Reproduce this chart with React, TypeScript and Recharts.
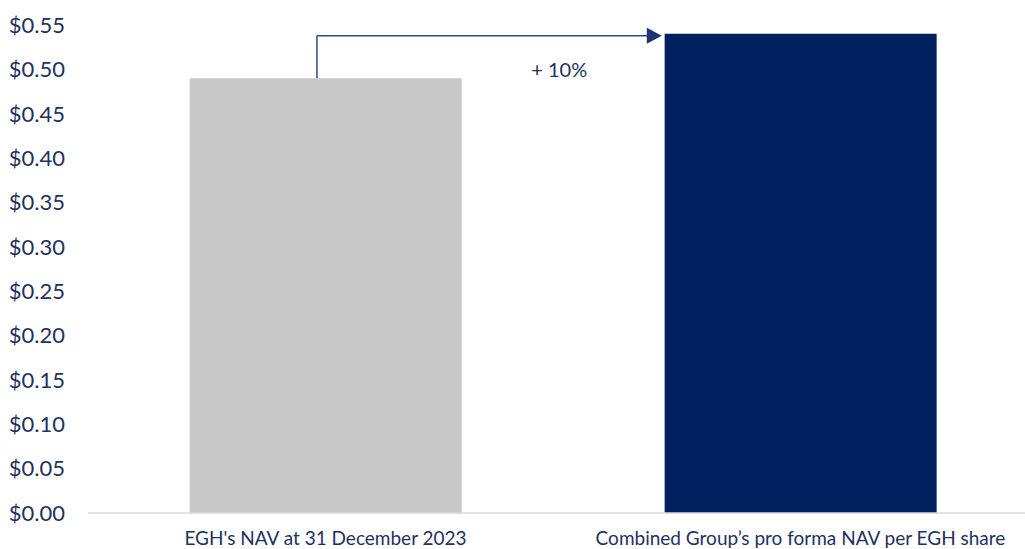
import React from 'react';
import {
  BarChart,
  Bar,
  Cell,
  XAxis,
  YAxis,
  ReferenceLine,
  ReferenceDot,
} from 'recharts';

// categories and values
const categories = ["EGH's NAV at 31 December 2023", 'Combined Group’s pro forma NAV per EGH share'];
const navValues = [0.49, 0.54];
const barColors = ['#c8c8c8', '#002060'];
const yTicks = [0, 0.05, 0.1, 0.15, 0.2, 0.25, 0.3, 0.35, 0.4, 0.45, 0.5, 0.55];

// arrow annotation, as a fraction of the plot width on a hidden numeric axis (0..1)
const arrowStartX = 0.241;
const arrowEndX = 0.604;
const arrowY = 0.538;
const changeLabel = '+ 10%';
const changeLabelPos = { x: 0.496, y: 0.5 };

const data = categories.map((name, i) => ({ name, value: navValues[i] }));

const TEXT = '#1f3160';
const ARROW = '#2f4a80';
const FONT = 'Lato, "Open Sans", sans-serif';

const ArrowHead = (props: any) => {
  const { x1, y1, x2, y2 } = props;
  return (
    <g>
      <line x1={x1} y1={y1} x2={x2 - 12} y2={y2} stroke={ARROW} strokeWidth={1.5} />
      <path d={`M${x2},${y2} L${x2 - 15},${y2 - 8} L${x2 - 15},${y2 + 8} Z`} fill="#1f3470" />
    </g>
  );
};

const LabelText = (props: any) => (
  <text x={props.cx} y={props.cy} textAnchor="middle" dominantBaseline="central" fill={TEXT} fontSize={20} fontFamily={FONT}>
    {changeLabel}
  </text>
);

export default function App() {
  return (
    <div style={{ position: 'absolute', left: 0, top: 0, width: 1025, height: 549, overflow: 'hidden', background: '#fff' }}>
      <BarChart width={1038} height={549} data={data} margin={{ top: 25, right: 0, left: 0, bottom: 0 }} barCategoryGap="21.4%">
        <XAxis
          dataKey="name"
          height={36}
          tickLine={false}
          axisLine={{ stroke: '#d9d9d9', strokeWidth: 1.5 }}
          tickMargin={13}
          tick={{ fill: TEXT, fontSize: 19, fontFamily: FONT }}
          interval={0}
        />
        <XAxis xAxisId="num" type="number" domain={[0, 1]} hide allowDataOverflow />
        <YAxis
          width={88}
          domain={[0, 0.55]}
          ticks={yTicks}
          tickLine={false}
          axisLine={false}
          tickSize={0}
          tickMargin={23}
          interval={0}
          tickFormatter={(v: number) => `$${v.toFixed(2)}`}
          tick={{ fill: TEXT, fontSize: 22, fontFamily: FONT }}
        />
        <Bar dataKey="value" isAnimationActive={false}>
          {data.map((d, i) => (
            <Cell key={d.name} fill={barColors[i]} />
          ))}
        </Bar>
        <ReferenceLine
          xAxisId="num"
          segment={[{ x: arrowStartX, y: navValues[0] }, { x: arrowStartX, y: arrowY }]}
          stroke={ARROW}
          strokeWidth={1.5}
        />
        <ReferenceLine
          xAxisId="num"
          segment={[{ x: arrowStartX, y: arrowY }, { x: arrowEndX, y: arrowY }]}
          shape={ArrowHead}
        />
        <ReferenceDot xAxisId="num" x={changeLabelPos.x} y={changeLabelPos.y} r={0} shape={LabelText} />
      </BarChart>
    </div>
  );
}
